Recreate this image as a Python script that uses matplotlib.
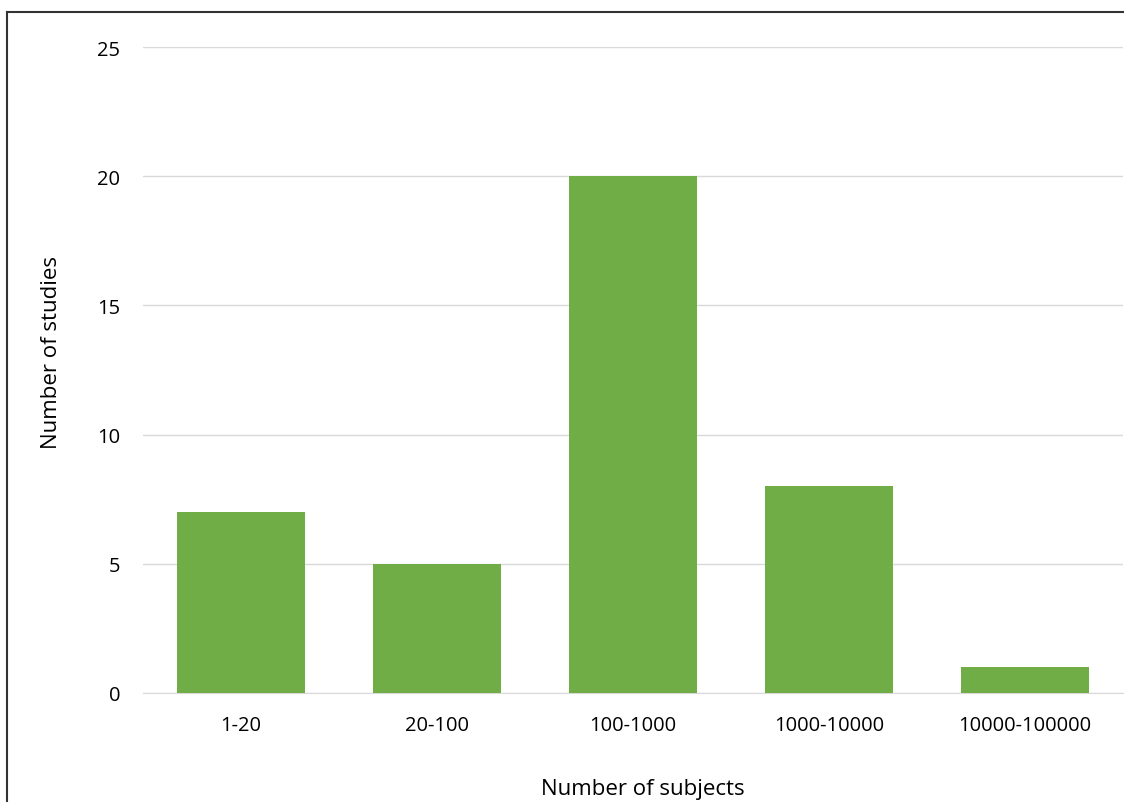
import matplotlib.pyplot as plt
from matplotlib.lines import Line2D

categories = ['1-20', '20-100', '100-1000', '1000-10000', '10000-100000']
studies = [7, 5, 20, 8, 1]
yticks = [0, 5, 10, 15, 20, 25]

plt.rcParams['font.family'] = ['Open Sans', 'DejaVu Sans']

fig = plt.figure(figsize=(11.24, 8.03), dpi=100)
ax = fig.add_axes([143 / 1124, 1 - 694 / 803, 980 / 1124, (694 - 48) / 803])

x = range(len(categories))
ax.bar(x, studies, width=0.65, color='#70AD47', zorder=3)

ax.set_xlim(-0.5, len(categories) - 0.5)
ax.set_ylim(0, 25)
ax.set_yticks(yticks)
ax.set_xticks(list(x))
ax.set_xticklabels(categories)
ax.grid(axis='y', color='#d9d9d9', linewidth=1, zorder=0)
ax.tick_params(length=0, labelsize=14.5, colors='black')
ax.tick_params(axis='y', pad=16.5)
ax.tick_params(axis='x', pad=16)
for side in ['top', 'right', 'left']:
    ax.spines[side].set_visible(False)
ax.spines['bottom'].set_color('#d9d9d9')

ax.set_xlabel('Number of subjects', fontsize=16, labelpad=31)
ax.set_ylabel('Number of studies', fontsize=16, labelpad=25)
# labels sit a little off-centre in the original
ax.xaxis.label.set_x(0.51)
ax.yaxis.label.set_y(0.528)

# outer frame (top and left edges only visible)
fig.add_artist(Line2D([7 / 1124, 1], [1 - 13 / 803, 1 - 13 / 803],
                      transform=fig.transFigure, color='#333333', linewidth=1.5))
fig.add_artist(Line2D([7 / 1124, 7 / 1124], [0, 1 - 13 / 803],
                      transform=fig.transFigure, color='#333333', linewidth=1.5))

fig.savefig('out.png', dpi=100)
